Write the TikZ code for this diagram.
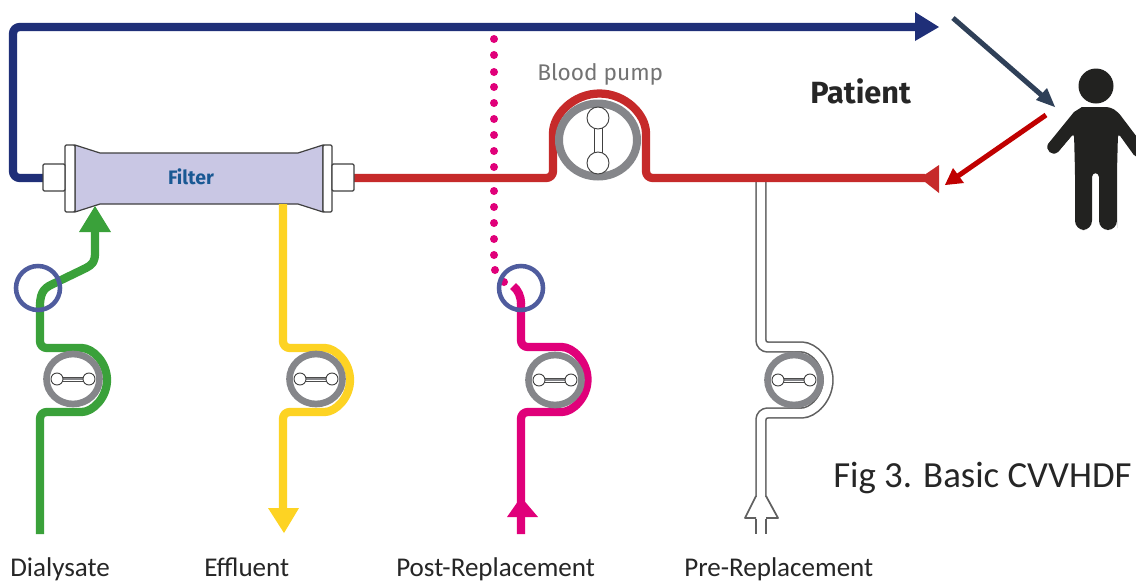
\documentclass[tikz,border=0pt]{standalone}
\usepackage{fontspec}
\setmainfont{Carlito}
\newfontfamily\dinfont{Fira Sans}
\definecolor{cblue}{HTML}{1F2F78}
\definecolor{cgreen}{HTML}{3AA13A}
\definecolor{cyellow}{HTML}{FDD323}
\definecolor{cpink}{HTML}{E0007A}
\definecolor{cred}{HTML}{C62A2A}
\definecolor{cfilter}{HTML}{C9C7E4}
\definecolor{cring}{HTML}{85868A}
\definecolor{cclamp}{HTML}{4F5C9E}
\definecolor{cslate}{HTML}{2F4058}
\definecolor{cdeep}{HTML}{C00000}
\definecolor{cfig}{HTML}{222220}
\tikzset{
  px/.style={x=0.75pt,y=-0.75pt},
  tube/.style={line width=6.2pt,line join=round,rounded corners=5pt},
  hollow/.style={draw=gray!75!black,line width=8.6pt,rounded corners=5pt},
  hollowin/.style={draw=white,line width=6.2pt,rounded corners=5pt},
  pumpring/.style={draw=cring,line width=5pt,fill=white},
  rotor/.style={draw=black!75,line width=0.7pt,fill=white},
  clamp/.style={draw=cclamp,line width=3.4pt},
  port/.style={draw=black!75,line width=0.9pt,fill=white,rounded corners=1pt},
  caption/.style={anchor=base west,font=\fontsize{20.3pt}{22pt}\selectfont,text=black!85,inner sep=0pt},
}
\newcommand{\smallpump}[3]{%
  \draw[pumpring] (#1,#2) ellipse (26.5 and 25);
  \draw[draw=cring,line width=2.2pt] (#1-16,#2) -- (#1+16,#2);
  \draw[draw=black!70,line width=0.4pt] (#1-16,#2-1.8) -- (#1+16,#2-1.8) (#1-16,#2+1.8) -- (#1+16,#2+1.8);
  \draw[rotor] (#1-16,#2) circle (6);
  \draw[rotor] (#1+16,#2) circle (6);
}
\begin{document}
\begin{tikzpicture}[px]
\useasboundingbox (0,0) rectangle (1136,583);
\fill[white] (0,0) rectangle (1136,583);
\clip (0,0) rectangle (1136,583);

% named points
\coordinate (portL) at (43,178);
\coordinate (portR) at (354,178);
\coordinate (blueEnd) at (916,27);
\coordinate (redEnd) at (925,178);

% blue venous line
\draw[cblue,tube] (portL) -- (13,178) -- (13,27) -- (blueEnd);
\fill[cblue] (939,27) -- (915,12) -- (915,41) -- cycle;

% pre-replacement tube (below red line)
\draw[hollow] (761,180) -- (761,347) -- (795,347) arc (-90:90:33) -- (761,413) -- (761,498);
\draw[hollowin] (761,178) -- (761,347) -- (795,347) arc (-90:90:33) -- (761,413) -- (761,499);
\draw[gray!75!black,line width=8.6pt] (761,518) -- (761,534);
\draw[white,line width=6.2pt] (761,517) -- (761,535);
\fill[white] (756,497) rectangle (766,519);
\draw[gray!75!black,line width=1.3pt,line join=round]
  (756,496) -- (745,518) -- (756,518)
  (766,496) -- (778,518) -- (766,518);
\smallpump{794}{380}{}

% blood line
\draw[cred,tube] (portR) -- (553,178) -- (553,140) arc (180:360:46.5) -- (646,178) -- (redEnd);
\fill[cred] (920,178) -- (939,165) -- (939,193) -- cycle;
\node[inner sep=0pt] (pumpc) at (598,140) {};
\draw[draw=cring,line width=6pt,fill=white] (pumpc) ellipse (39 and 36.5);
\draw[draw=black!75,line width=0.7pt] (594,118) -- (594,163) (602,118) -- (602,163);
\draw[rotor] (598,118) circle (11);
\draw[rotor] (598,163) circle (11);

% dotted line
\foreach \yy in {39,55,72,87,103,119,135,151,167,191,207,223,239,255}
  \fill[cpink] (494,\yy) circle (4);
\fill[cpink] (495,270) circle (4);
\fill[cpink] (504,282) circle (4);

% filter
\draw[black!75,line width=0.9pt,fill=cfilter]
  (75,145) -- (100,153) -- (298,153) -- (323,145) -- (323,212) -- (298,204) -- (100,204) -- (75,212) -- cycle;
\draw[port] (65,145) rectangle (75,212);
\draw[port] (323,145) rectangle (332,212);
\draw[port] (43,164) rectangle (65,191);
\draw[port] (332,164) rectangle (354,191);
\node[inner sep=0pt,font=\dinfont\bfseries\fontsize{14.6pt}{16pt}\selectfont,text=cblue!80!cyan] (filt) at (191,177) {Filter};

% green
\draw[cgreen,tube] (40,534) -- (40,412) -- (75,412) arc (90:-90:32) -- (40,348) -- (40,305);
\draw[cgreen,line width=6.2pt,line join=round] (40,306) .. controls (40,290) and (46,287) .. (55,283) -- (86,268) .. controls (93,264) and (95,262) .. (95,252) -- (95,230);
\fill[cgreen] (95,206) -- (79,232) -- (111,232) -- cycle;
\smallpump{73}{379}{}
\draw[clamp] (38,288) circle (22);

% yellow
\draw[cyellow,tube] (283,204) -- (283,348) -- (318,348) arc (-90:90:32) -- (283,412) -- (283,512);
\fill[cyellow] (284,533) -- (268,508) -- (299,508) -- cycle;
\smallpump{316}{379}{}

% pink
\draw[cpink,line width=6.2pt] (513,286) .. controls (518,290) and (521,296) .. (521,304);
\draw[cpink,tube] (521,303) -- (521,347) -- (555,347) arc (-90:90:32.5) -- (521,412) -- (521,534);
\fill[cpink] (521,497) -- (507,517) -- (538,517) -- cycle;
\smallpump{555}{380}{}
\draw[clamp] (521,288) circle (22);

% patient arrows
\coordinate (slateA) at (953,18);
\coordinate (slateB) at (1055,107);
\coordinate (redA) at (1046,115);
\coordinate (redB) at (945,185);
\draw[cslate,line width=3.8pt] (slateA) -- (1042,95.5);
\fill[cslate] (slateB) -- (1036,100) -- (1047,88) -- cycle;
\draw[cdeep,line width=3.8pt] (redA) -- (958,176);
\fill[cdeep] (redB) -- (953,168) -- (964,183) -- cycle;

% person
\fill[cfig] (1096,86) circle (17.5);
\fill[cfig,rounded corners=3pt]
  (1082,107) -- (1110,107) -- (1118,112) -- (1149,153) -- (1136,158) -- (1118,133)
  -- (1117,172) -- (1117,224) [rounded corners=7pt] -- (1117,230) -- (1099,230) [rounded corners=3pt] -- (1099,173) -- (1092,173)
  [rounded corners=7pt] -- (1092,230) -- (1075,230) [rounded corners=3pt] -- (1075,172) -- (1074,133) -- (1058,152);
\fill[cfig,line join=round] (1082,107) -- (1074,112) -- (1048,144) .. controls (1045,150) and (1052,157) .. (1058,152) -- (1074,133) -- (1096,120) -- cycle;

% text
\node[inner sep=0pt,anchor=base west,font=\dinfont\fontsize{17pt}{19pt}\selectfont,text=black!55] (bp) at (537,80) {Blood pump};
\node[inner sep=0pt,anchor=base west,font=\dinfont\bfseries\fontsize{23pt}{25pt}\selectfont,text=black!85] (pat) at (810,103) {Patient};
\node[caption] (c1) at (10,576.5) {Dialysate};
\node[caption] (c2) at (204,576.5) {Effluent};
\node[caption] (c3) at (396,576.5) {Post-Replacement};
\node[caption] (c4) at (684,576.5) {Pre-Replacement};
\node[anchor=base west,inner sep=0pt,font=\fontsize{27.6pt}{30pt}\selectfont,text=black!85] (fig) at (833,487) {Fig 3. Basic CVVHDF};
\end{tikzpicture}
\end{document}
